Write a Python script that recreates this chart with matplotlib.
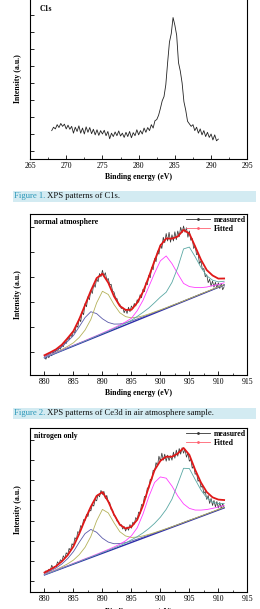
import numpy as np
import matplotlib
matplotlib.use("Agg")
import matplotlib.pyplot as plt
from matplotlib.lines import Line2D
from matplotlib.patches import Rectangle

plt.rcParams['font.family'] = ['Liberation Serif', 'DejaVu Serif']

# ---- Figure 1: C1s (measured only) ----
c1s_start, c1s_step = 268.0, 0.25
c1s_y = [2.20, 2.40, 2.30, 2.55, 2.38, 2.62, 2.45, 2.58, 2.30, 2.52, 2.28, 2.45,
         2.05, 2.40, 2.15, 2.48, 2.05, 2.35, 2.00, 2.42, 2.10, 2.38, 2.02, 2.28,
         1.95, 2.25, 1.92, 2.20, 2.00, 2.22, 1.90, 2.15, 1.72, 2.05, 1.85, 2.12,
         1.90, 2.18, 1.88, 2.05, 1.80, 2.10, 1.85, 2.15, 1.78, 2.08, 1.90, 2.25,
         1.95, 2.20, 2.00, 2.35, 2.10, 2.38, 2.20, 2.55, 2.35, 2.78, 2.85, 3.10,
         3.50, 3.95, 4.20, 4.90, 6.20, 7.40, 7.90, 8.85, 8.40, 7.80, 6.20, 5.70,
         5.00, 3.90, 3.40, 2.75, 2.60, 2.45, 2.55, 2.20, 2.40, 2.05, 2.30, 1.95,
         2.20, 1.85, 2.10, 1.80, 2.00, 1.65, 1.95, 1.60, 1.70]

# ---- Ce3d fits, 1 eV grid ----
fit_e = list(range(880, 912))

# normal atmosphere
air_base = [0.78, 3.69]  # baseline at 880 and 911
air_blue = [0.05, 0.07, 0.09, 0.16, 0.28, 0.42, 0.68, 0.95, 1.09, 0.92, 0.62, 0.38, 0.22, 0.13, 0.08, 0.06,
            0.05, 0.04, 0.03, 0.03, 0.02, 0.02, 0.02, 0.02, 0.02, 0.02, 0.02, 0.02, 0.01, 0.01, 0.01, 0.01]
air_olive = [0.02, 0.02, 0.03, 0.05, 0.08, 0.13, 0.25, 0.45, 0.78, 1.35, 1.72, 1.50, 1.00, 0.58, 0.33, 0.19,
             0.12, 0.08, 0.06, 0.05, 0.04, 0.03, 0.03, 0.02, 0.02, 0.02, 0.02, 0.02, 0.02, 0.02, 0.01, 0.01]
air_mag = [0.02, 0.02, 0.02, 0.02, 0.03, 0.03, 0.03, 0.03, 0.04, 0.04, 0.05, 0.06, 0.07, 0.09, 0.12, 0.17,
           0.38, 0.70, 1.15, 1.60, 2.00, 2.10, 1.70, 1.20, 0.72, 0.50, 0.37, 0.27, 0.20, 0.16, 0.11, 0.09]
air_teal = [0.01, 0.01, 0.01, 0.01, 0.02, 0.02, 0.02, 0.02, 0.02, 0.03, 0.03, 0.03, 0.04, 0.05, 0.07, 0.09,
            0.15, 0.22, 0.30, 0.42, 0.55, 0.65, 0.95, 1.45, 2.10, 2.08, 1.60, 1.08, 0.65, 0.38, 0.22, 0.15]
air_meas = [0.80, 0.72, 0.88, 0.78, 0.95, 0.86, 1.02, 0.94, 1.10, 1.02, 1.18, 1.12, 1.30, 1.22, 1.42, 1.35,
            1.58, 1.50, 1.72, 1.62, 1.85, 1.78, 2.08, 2.00, 2.35, 2.22, 2.62, 2.50, 2.95, 2.82, 3.22, 3.10,
            3.48, 3.35, 3.72, 3.60, 3.95, 3.82, 4.15, 4.02, 4.28, 4.05, 4.18, 3.90, 3.95, 3.70, 3.72, 3.45,
            3.40, 3.18, 3.15, 2.95, 2.92, 2.75, 2.80, 2.58, 2.72, 2.55, 2.80, 2.62, 2.85, 2.75, 2.95, 2.85,
            3.10, 3.00, 3.30, 3.18, 3.52, 3.42, 3.78, 3.70, 4.08, 3.98, 4.40, 4.30, 4.75, 4.62, 5.05, 4.92,
            5.32, 5.15, 5.60, 5.38, 5.75, 5.45, 5.80, 5.40, 5.70, 5.45, 5.82, 5.50, 5.85, 5.62, 6.00, 5.78,
            6.05, 5.80, 5.98, 5.60, 5.85, 5.48, 5.55, 5.15, 5.25, 4.90, 4.95, 4.55, 4.65, 4.30, 4.35, 4.02,
            4.10, 3.78, 3.92, 3.65, 3.85, 3.60, 3.80, 3.58, 3.78, 3.55, 3.75, 3.50, 3.62]

# nitrogen only
n2_base = [1.30, 4.63]
n2_blue = [0.06, 0.09, 0.13, 0.22, 0.38, 0.62, 0.98, 1.30, 1.40, 1.15, 0.75, 0.45, 0.26, 0.16, 0.10, 0.07,
           0.06, 0.05, 0.04, 0.04, 0.03, 0.03, 0.03, 0.03, 0.03, 0.03, 0.02, 0.02, 0.02, 0.02, 0.02, 0.02]
n2_olive = [0.03, 0.04, 0.05, 0.08, 0.12, 0.20, 0.36, 0.62, 1.05, 1.72, 2.18, 1.90, 1.30, 0.75, 0.43, 0.25,
            0.16, 0.11, 0.08, 0.06, 0.05, 0.04, 0.03, 0.03, 0.03, 0.03, 0.03, 0.03, 0.03, 0.03, 0.03, 0.03]
n2_mag = [0.02, 0.02, 0.03, 0.03, 0.03, 0.04, 0.04, 0.05, 0.05, 0.06, 0.07, 0.08, 0.10, 0.13, 0.19, 0.33,
          0.62, 1.20, 1.95, 2.55, 2.72, 2.55, 2.05, 1.45, 0.95, 0.62, 0.43, 0.32, 0.24, 0.19, 0.15, 0.12]
n2_teal = [0.01, 0.01, 0.01, 0.02, 0.02, 0.02, 0.02, 0.03, 0.03, 0.03, 0.04, 0.04, 0.05, 0.06, 0.08, 0.13,
           0.18, 0.26, 0.37, 0.52, 0.72, 1.00, 1.40, 2.05, 2.72, 2.60, 1.95, 1.32, 0.82, 0.50, 0.32, 0.22]
n2_meas = [1.40, 1.50, 1.42, 1.58, 1.52, 1.78, 1.62, 1.72, 1.70, 1.95, 1.85, 2.05, 1.98, 2.25, 2.12, 2.40,
           2.30, 2.62, 2.50, 2.85, 2.75, 3.15, 3.05, 3.45, 3.40, 3.75, 3.68, 4.05, 4.00, 4.30, 4.20, 4.55,
           4.48, 4.80, 4.72, 5.05, 4.98, 5.30, 5.18, 5.50, 5.30, 5.45, 5.10, 5.25, 4.92, 4.90, 4.55, 4.52,
           4.25, 4.22, 3.98, 3.95, 3.78, 3.80, 3.58, 3.70, 3.48, 3.68, 3.52, 3.80, 3.62, 3.92, 3.82, 4.15,
           4.05, 4.42, 4.35, 4.80, 4.75, 5.20, 5.15, 5.62, 5.60, 6.05, 6.00, 6.50, 6.45, 6.88, 6.72, 7.20,
           6.95, 7.35, 7.00, 7.30, 6.95, 7.25, 6.98, 7.22, 7.00, 7.40, 7.10, 7.50, 7.20, 7.58, 7.30, 7.62,
           7.35, 7.55, 7.15, 7.35, 6.95, 7.05, 6.60, 6.72, 6.30, 6.35, 5.95, 6.05, 5.65, 5.75, 5.35, 5.45,
           5.05, 5.25, 4.85, 5.10, 4.75, 5.00, 4.68, 4.95, 4.62, 4.90, 4.60, 4.85, 4.65]

captions = [(196, 'Figure 1.', ' XPS patterns of C1s.'),
            (413, 'Figure 2.', ' XPS patterns of Ce3d in air atmosphere sample.')]

fs = 5.6
W, H = 260, 609
fig = plt.figure(figsize=(W / 100, H / 100), dpi=100)


def fpos(left, top, right, bottom):
    return [left / W, 1 - bottom / H, (right - left) / W, (bottom - top) / H]


def style_ax(ax, xlim, ylim, xticks, nyt, xpad=2):
    ax.set_xlim(*xlim)
    ax.set_ylim(*ylim)
    ax.set_xticks(xticks)
    ax.set_xticks(np.arange(xticks[0], xticks[-1], 2.5), minor=True)
    ax.set_yticks(range(1, nyt + 1))
    ax.set_yticklabels([])
    ax.tick_params(direction='in', length=3, width=0.6, labelsize=fs, pad=2.5)
    ax.tick_params(which='minor', direction='in', length=1.5, width=0.5)
    for s in ax.spines.values():
        s.set_linewidth(0.8)
    ax.set_xlabel('Binding energy (eV)', fontsize=fs, fontweight='bold', labelpad=xpad)
    ax.set_ylabel('Intensity (a.u.)', fontsize=fs, fontweight='bold', labelpad=3)


# panel 1
ax1 = fig.add_axes(fpos(30, -2, 247.3, 159))
e1 = c1s_start + c1s_step * np.arange(len(c1s_y))
ax1.plot(e1, c1s_y, color='#222222', lw=0.6)
style_ax(ax1, (265, 295), (0.53, 10.0), list(range(265, 296, 5)), 9)
ax1.text(0.045, 0.955, 'C1s', transform=ax1.transAxes, fontsize=fs, fontweight='bold', va='top')


def ce3d(ax, base, blue, olive, mag, teal, meas, label, ylim, nyt, xpad):
    e = np.array(fit_e, dtype=float)
    b = np.linspace(base[0], base[1], len(e))
    em = 880 + 0.25 * np.arange(len(meas))
    ax.plot(em, meas, color='#3a3a3a', lw=0.55)
    ax.plot(e, b, color='#2c2ca8', lw=1.0)
    ax.plot(e, b + np.array(blue), color='#5a5aaa', lw=0.6)
    ax.plot(e, b + np.array(olive), color='#b5b25a', lw=0.6)
    ax.plot(e, b + np.array(mag), color='#ff3cff', lw=0.6)
    ax.plot(e, b + np.array(teal), color='#5aa8a4', lw=0.6)
    total = b + np.array(blue) + np.array(olive) + np.array(mag) + np.array(teal)
    ax.plot(e, total, color='#e01818', lw=1.3)
    style_ax(ax, (877.5, 915), ylim, list(range(880, 916, 5)), nyt, xpad)
    ax.text(0.02, 0.975, label, transform=ax.transAxes, fontsize=fs, fontweight='bold', va='top')
    handles = [Line2D([0], [0], color='#333333', lw=0.6, marker='.', ms=2),
               Line2D([0], [0], color='#ff6070', lw=0.6, marker='.', ms=2)]
    ax.legend(handles, ['measured', 'Fitted'], loc='upper right', frameon=False,
              prop={'size': fs, 'weight': 'bold'}, handlelength=3.0, handletextpad=0.5,
              labelspacing=0.2, borderaxespad=0.1, borderpad=0.1)


ax2 = fig.add_axes(fpos(30, 214, 247.3, 375))
ce3d(ax2, air_base, air_blue, air_olive, air_mag, air_teal, air_meas, 'normal atmosphere', (0.09, 6.53), 6, 2)

ax3 = fig.add_axes(fpos(30, 428, 247.3, 592))
ce3d(ax3, n2_base, n2_blue, n2_olive, n2_mag, n2_teal, n2_meas, 'nitrogen only', (0.45, 8.6), 8, 3.5)

# captions
renderer = fig.canvas.get_renderer()
for yc, num, rest in captions:
    fig.add_artist(Rectangle((13 / W, 1 - (yc + 5.5) / H), 243 / W, 11 / H,
                             transform=fig.transFigure, color='#d3ebf2', lw=0))
    t1 = fig.text(14 / W, 1 - yc / H, num, fontsize=6.2, color='#2a97b8', va='center')
    bb = t1.get_window_extent(renderer)
    fig.text(bb.x1 / W, 1 - yc / H, rest, fontsize=6.2, color='#111111', va='center')

fig.savefig('out.png', dpi=100)
